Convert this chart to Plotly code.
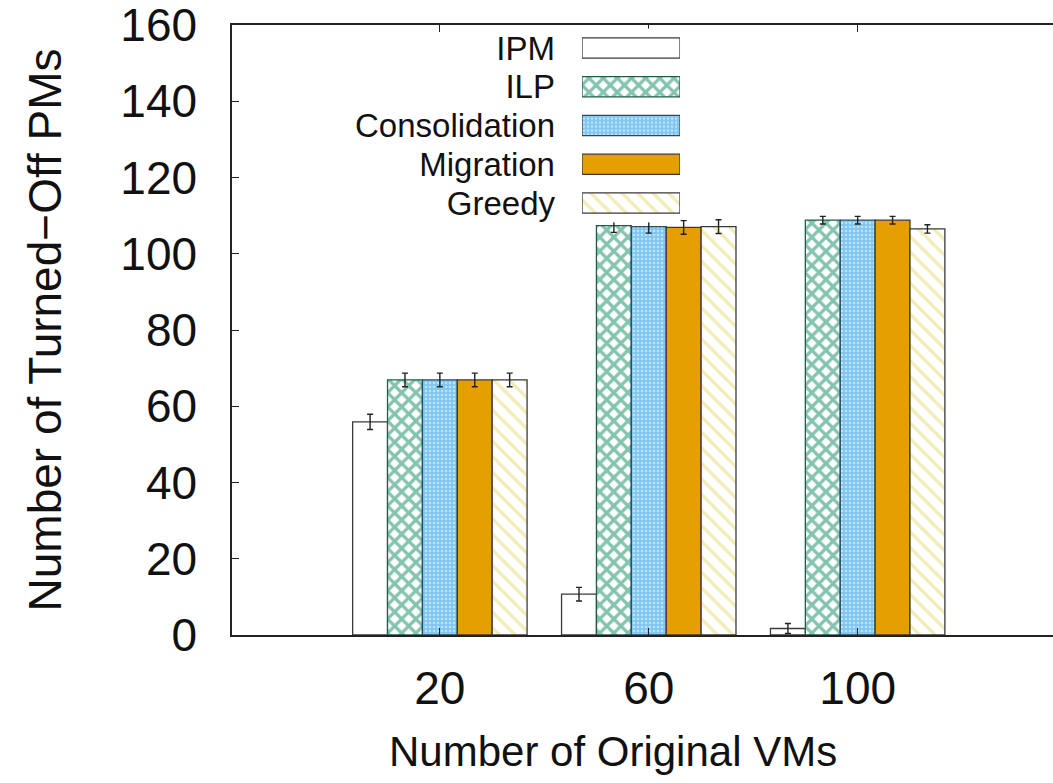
import plotly.graph_objects as go

categories = ["20", "60", "100"]
series_names = ["IPM", "ILP", "Consolidation", "Migration", "Greedy"]
ipm = [55.9, 10.7, 1.7]
ilp = [66.9, 107.4, 108.8]
consolidation = [66.9, 107.1, 108.8]
migration = [66.9, 106.9, 108.8]
greedy = [66.9, 107.1, 106.5]
ipm_err = [2.0, 1.8, 1.3]
ilp_err = [1.8, 1.8, 1.0]
consolidation_err = [1.8, 1.7, 1.0]
migration_err = [1.8, 1.8, 1.0]
greedy_err = [1.8, 1.8, 1.1]
y_ticks = [0, 20, 40, 60, 80, 100, 120, 140, 160]

values = [ipm, ilp, consolidation, migration, greedy]
errors = [ipm_err, ilp_err, consolidation_err, migration_err, greedy_err]

FONT = "Liberation Sans, Arial, Helvetica, sans-serif"
OUTLINE = "#3a3a3a"

markers = [
    dict(color="white", line=dict(color=OUTLINE, width=1.3)),
    dict(color="white", line=dict(color="#1f5f4a", width=1.3),
         pattern=dict(shape="x", fgcolor="#07875f", bgcolor="white", size=10, solidity=0.55)),
    dict(color="#7fc4ee", line=dict(color="#2d4a60", width=1.3),
         pattern=dict(shape=".", fgcolor="white", bgcolor="#80c6f0", size=4, solidity=0.3)),
    dict(color="#e69f00", line=dict(color=OUTLINE, width=1.3)),
    dict(color="white", line=dict(color=OUTLINE, width=1.3),
         pattern=dict(shape="\\", fgcolor="#e4dc70", bgcolor="white", size=11, solidity=0.3)),
]

fig = go.Figure()
for name, vals, errs, mk in zip(series_names, values, errors, markers):
    fig.add_trace(go.Bar(
        x=categories, y=vals, name=name, marker=mk,
        error_y=dict(type="data", array=errs, visible=True, color="#222222",
                     thickness=1.4, width=3),
        showlegend=False,
    ))

# legend key drawn on an auxiliary axis (gnuplot style: text left of swatch)
for name, mk in zip(series_names, markers):
    fig.add_trace(go.Bar(
        x=[1], y=[name], orientation="h", marker=mk, width=0.52,
        xaxis="x3", yaxis="y3", showlegend=False, hoverinfo="skip",
    ))

W, H = 1053, 783
ml, mt, mb, mr = 232, 25, 148, 0

fig.update_layout(
    width=W, height=H,
    margin=dict(l=ml, r=mr, t=mt, b=mb, pad=0),
    paper_bgcolor="white", plot_bgcolor="white",
    barmode="group", bargap=0.165, bargroupgap=0,
    font=dict(family=FONT, color="#111111"),
    xaxis=dict(
        type="category", range=[-0.995, 2.935],
        showline=True, linecolor="#222222", linewidth=1.5, mirror="ticks",
        ticks="inside", ticklen=7, tickcolor="#222222", tickwidth=1,
        tickfont=dict(size=46, family=FONT), ticklabelstandoff=12,
        showgrid=False, zeroline=False,
    ),
    yaxis=dict(
        range=[0, 160], tickvals=y_ticks,
        showline=True, linecolor="#222222", linewidth=1.5, mirror=False,
        ticks="inside", ticklen=7, tickcolor="#222222", tickwidth=1,
        tickfont=dict(size=46, family=FONT), ticklabelstandoff=24,
        ticklabeloverflow="allow",
        showgrid=False, zeroline=False,
        title=dict(text="Number of Turned\u2212Off PMs", font=dict(size=46, family=FONT), standoff=44),
    ),
    xaxis3=dict(domain=[0.4263, 0.5457], range=[0, 1], anchor="y3",
                visible=False, fixedrange=True),
    yaxis3=dict(domain=[0.6764, 0.9941], anchor="x3", type="category",
                categoryorder="array", categoryarray=series_names[::-1],
                tickmode="array", tickvals=series_names, ticktext=series_names,
                range=[-0.5, 4.5], showline=False, showgrid=False, zeroline=False,
                ticks="", tickfont=dict(size=33, family=FONT), ticklabelstandoff=26,
                fixedrange=True),
    annotations=[dict(
        text="Number of Original VMs", xref="paper", yref="paper",
        x=0.464, y=-0.191, xanchor="center", yanchor="middle", showarrow=False,
        font=dict(size=42, family=FONT, color="#111111"),
    )],
)

fig.write_html("out.html")
